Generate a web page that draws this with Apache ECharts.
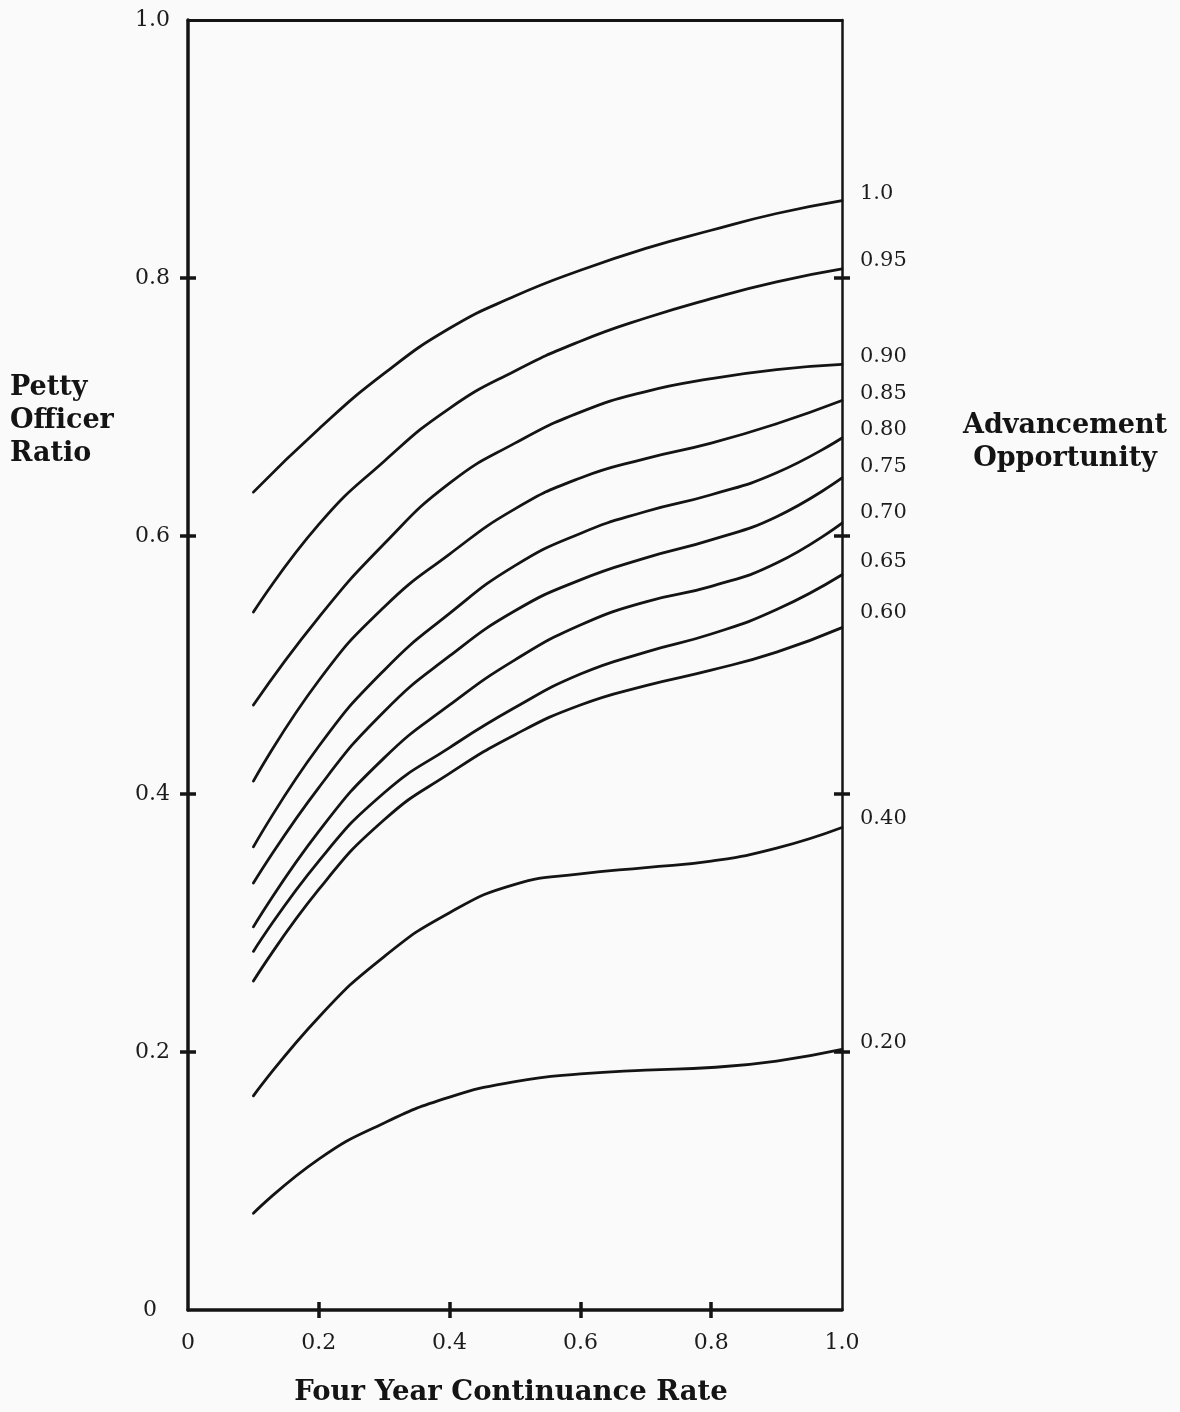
<!DOCTYPE html>
<html>
<head>
<meta charset="utf-8">
<title>Petty Officer Ratio vs Four Year Continuance Rate</title>
<script src="https://cdn.jsdelivr.net/npm/echarts@6/dist/echarts.min.js"></script>
<style>
  html, body { margin: 0; padding: 0; background: #fafafa; }
  #chart { width: 1180px; height: 1412px; }
</style>
</head>
<body>
<div id="chart"></div>
<script>
// Four year continuance rate (x) at which each curve is sampled
const continuanceRate = [0.1, 0.2, 0.3, 0.4, 0.5, 0.6, 0.7, 0.8, 0.9, 1.0];

// Advancement opportunity levels, one curve each
const opportunityLevels = ['1.0', '0.95', '0.90', '0.85', '0.80', '0.75', '0.70', '0.65', '0.60', '0.40', '0.20'];

// Petty officer ratio for each advancement opportunity level
const ratio100 = [0.634, 0.683, 0.726, 0.761, 0.786, 0.806, 0.823, 0.837, 0.850, 0.860];
const ratio095 = [0.541, 0.609, 0.658, 0.699, 0.728, 0.751, 0.769, 0.784, 0.797, 0.807];
const ratio090 = [0.469, 0.537, 0.594, 0.641, 0.672, 0.696, 0.712, 0.722, 0.729, 0.733];
const ratio085 = [0.410, 0.488, 0.545, 0.586, 0.621, 0.645, 0.660, 0.672, 0.687, 0.705];
const ratio080 = [0.359, 0.437, 0.496, 0.540, 0.577, 0.602, 0.619, 0.632, 0.649, 0.676];
const ratio075 = [0.331, 0.405, 0.464, 0.507, 0.542, 0.566, 0.583, 0.597, 0.615, 0.645];
const ratio070 = [0.297, 0.371, 0.428, 0.469, 0.504, 0.531, 0.549, 0.561, 0.579, 0.610];
const ratio065 = [0.278, 0.348, 0.401, 0.436, 0.467, 0.493, 0.510, 0.524, 0.543, 0.570];
const ratio060 = [0.255, 0.326, 0.380, 0.416, 0.446, 0.469, 0.484, 0.496, 0.510, 0.529];
const ratio040 = [0.166, 0.227, 0.274, 0.308, 0.330, 0.338, 0.343, 0.348, 0.358, 0.374];
const ratio020 = [0.075, 0.117, 0.145, 0.165, 0.177, 0.183, 0.186, 0.188, 0.193, 0.202];

// Tick values on both axes (ticks only at the inner values)
const tickValues = [0.2, 0.4, 0.6, 0.8];

const ratioSeries = [ratio100, ratio095, ratio090, ratio085, ratio080, ratio075,
                     ratio070, ratio065, ratio060, ratio040, ratio020];

// Vertical nudge of each curve's end label (px)
const endLabelShift = [-7, -8, -8, -7, -8, -11, -11, -13, -15, -9, -7];

const INK = '#141414';
const TEXT = '#1c1c1c';
const SERIF = '"DejaVu Serif", "Liberation Serif", serif';

const fmt = v => (v === 0 ? '0' : v.toFixed(1));

function valueAxis(extra) {
  const base = {
    type: 'value', min: 0, max: 1, interval: 0.2,
    splitLine: { show: false },
    axisLine: { show: false, onZero: false },
    axisTick: { show: false },
    axisLabel: { show: false }
  };
  return Object.assign(base, extra);
}

// Ticks cross the axis line: one axis draws the outer half, a twin draws the inner half
const crossTick = (inside) => ({
  show: true, inside: inside, length: 8, customValues: tickValues,
  lineStyle: { color: INK, width: 3.5 }
});

const chart = echarts.init(document.getElementById('chart'), null, { renderer: 'canvas' });

chart.setOption({
  animation: false,
  backgroundColor: '#fafafa',
  grid: { left: 188, right: 338, top: 20, bottom: 102, containLabel: false, outerBoundsMode: 'none' },
  xAxis: [
    valueAxis({
      position: 'bottom',
      axisLine: { show: true, onZero: false, lineStyle: { color: INK, width: 3.5 } },
      axisTick: crossTick(false),
      axisLabel: { show: true, margin: 22, formatter: fmt, fontFamily: SERIF, fontSize: 22, color: TEXT }
    }),
    valueAxis({ position: 'bottom', axisTick: crossTick(true) }),
    valueAxis({
      position: 'top',
      axisLine: { show: true, onZero: false, lineStyle: { color: INK, width: 3 } }
    })
  ],
  yAxis: [
    valueAxis({
      position: 'left',
      axisLine: { show: true, onZero: false, lineStyle: { color: INK, width: 3.5 } },
      axisTick: crossTick(false),
      axisLabel: {
        show: true, margin: 18, fontFamily: SERIF, fontSize: 22, color: TEXT,
        formatter: v => (v === 0 ? '{z|0}' : v.toFixed(1)),
        rich: { z: { fontFamily: SERIF, fontSize: 22, color: TEXT, padding: [0, 13, 0, 0] } }
      }
    }),
    valueAxis({ position: 'left', axisTick: crossTick(true) }),
    valueAxis({
      position: 'right',
      axisLine: { show: true, onZero: false, lineStyle: { color: INK, width: 2.5 } },
      axisTick: crossTick(false)
    }),
    valueAxis({ position: 'right', axisTick: crossTick(true) })
  ],
  graphic: [
    {
      type: 'text', x: 10, y: 371, silent: true,
      style: {
        text: 'Petty\nOfficer\nRatio', fontFamily: SERIF, fontWeight: 'bold', fontSize: 27,
        lineHeight: 33, fill: INK, textAlign: 'left', textVerticalAlign: 'top'
      }
    },
    {
      type: 'text', x: 1065, y: 409, silent: true,
      style: {
        text: 'Advancement\nOpportunity', fontFamily: SERIF, fontWeight: 'bold', fontSize: 27,
        lineHeight: 33, fill: INK, textAlign: 'center', textVerticalAlign: 'top'
      }
    },
    {
      type: 'text', x: 511, y: 1393, silent: true,
      style: {
        text: 'Four Year Continuance Rate', fontFamily: SERIF, fontWeight: 'bold', fontSize: 27.5,
        fill: INK, textAlign: 'center', textVerticalAlign: 'middle'
      }
    }
  ],
  series: opportunityLevels.map((level, i) => ({
    name: level,
    type: 'line',
    xAxisIndex: 0,
    yAxisIndex: 0,
    smooth: 0.5,
    showSymbol: false,
    symbol: 'none',
    lineStyle: { color: INK, width: 2.8, cap: 'round' },
    data: continuanceRate.map((x, k) => [x, ratioSeries[i][k]]),
    endLabel: {
      show: true, formatter: '{a}', distance: 18, offset: [0, endLabelShift[i]],
      fontFamily: SERIF, fontSize: 21, color: TEXT
    },
    emphasis: { disabled: true }
  }))
});
</script>
</body>
</html>
